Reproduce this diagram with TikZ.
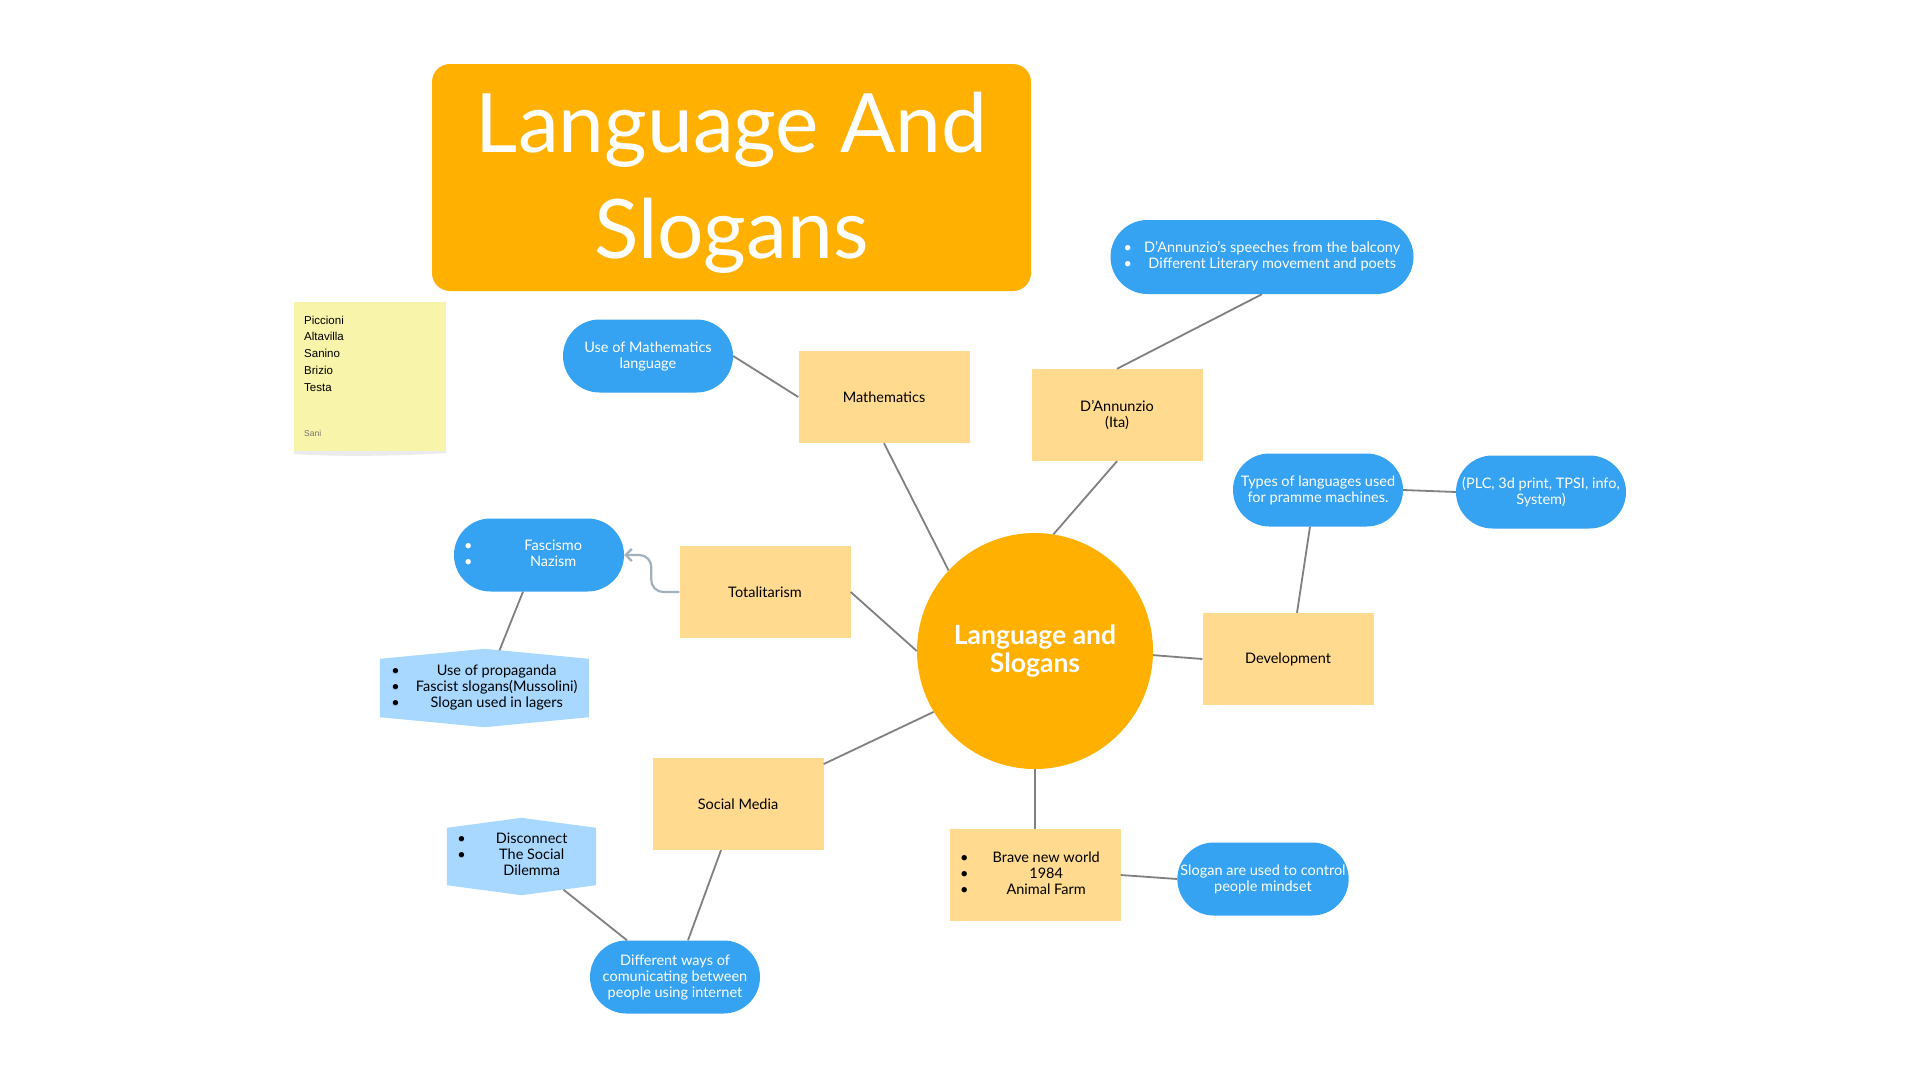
\documentclass[tikz,border=0pt]{standalone}
\usepackage{fontspec}
\setmainfont{Lato}
\newfontfamily\notefont{Liberation Sans}
\usetikzlibrary{arrows.meta,calc,positioning,shapes.misc,backgrounds}

\definecolor{titleorange}{HTML}{FFB000}
\definecolor{topicyellow}{HTML}{FFDA8F}
\definecolor{pillblue}{HTML}{36A2F2}
\definecolor{hexblue}{HTML}{A8D8FF}
\definecolor{noteyellow}{HTML}{F8F4AA}
\definecolor{linkgray}{HTML}{808080}
\definecolor{arrowgray}{HTML}{A3B1BC}

% bullet column, gap, text column, right padding
\newcommand{\dotlist}[3]{\begin{tabular}{@{}c@{\hspace{#1}}c@{\hspace{#2}}}#3\end{tabular}}

\tikzset{
  topic/.style={fill=topicyellow,minimum width=171pt,minimum height=92pt,inner sep=0pt,align=center,font=\fontsize{14.5}{16}\selectfont},
  pill/.style={rounded rectangle,fill=pillblue,text=white,minimum width=170pt,minimum height=73pt,inner sep=0pt,align=center,font=\fontsize{14.5}{16}\selectfont},
  hexbox/.style={inner sep=0pt,align=center,font=\fontsize{14.5}{16}\selectfont},
  link/.style={draw=linkgray,line width=1.8pt},
}

\begin{document}
\begin{tikzpicture}[x=1pt,y=-1pt]
\useasboundingbox (0,0) rectangle (1920,1080);

% title
\node[fill=titleorange,rounded corners=18pt,minimum width=599pt,minimum height=227pt] (title) at (731.5,177.5) {};
\node[text=white,align=center,font=\fontsize{82}{106}\selectfont] (titletext) at (731.5,182.5) {Language And\\Slogans};

% sticky note
\fill[black!8] (294,448) -- (446,448) -- (446,453) .. controls (400,456) and (340,457) .. (294,454) -- cycle;
\fill[noteyellow] (294,302) rectangle (446,451);
\node[anchor=north west,inner sep=0pt,align=left,font=\notefont\fontsize{11.5}{16.8}\selectfont] (names) at (304,315.5) {Piccioni\\Altavilla\\Sanino\\Brizio\\Testa};
\node[anchor=west,inner sep=0pt,text=black!55,font=\notefont\fontsize{8.5}{10}\selectfont] (sign) at (304,433) {Sani};

% hub
\node[circle,fill=titleorange,minimum size=236pt,inner sep=0pt,text=white,align=center,font=\bfseries\fontsize{26.5}{28}\selectfont] (hub) at (1035,651) {Language and\\Slogans};

% topics
\node[topic] (math) at (884,397) {Mathematics};
\node[topic] (dann) at (1117,415) {D'Annunzio\\(Ita)};
\node[topic] (total) at (765,592) {Totalitarism};
\node[topic] (dev) at (1288,659) {Development};
\node[topic] (social) at (738,804) {Social Media};
\node[topic] (books) at (1035,875) {\dotlist{24pt}{10pt}{• & Brave new world\\ • & 1984\\ • & Animal Farm}};

% blue notes
\node[pill] (mathuse) at (648,356) {Use of Mathematics\\language};
\node[pill,minimum width=303pt,minimum height=74pt] (balcony) at (1262,257) {\dotlist{12pt}{0pt}{• & D'Annunzio's speeches from the balcony\\ • & Different Literary movement and poets}};
\node[pill] (types) at (1318,490) {Types of languages used\\for pramme machines.};
\node[pill] (plc) at (1541,492) {(PLC, 3d print, TPSI, info,\\System)};
\node[pill] (regimes) at (539,555) {\dotlist{52pt}{32pt}{• & Fascismo\\ • & Nazism}};
\node[pill] (control) at (1263,879) {Slogan are used to control\\people mindset};
\node[pill] (ways) at (675,977) {Different ways of\\comunicating between\\people using internet};

% light blue hexagons
\node[hexbox,minimum width=209pt,minimum height=58pt] (prop) at (484.5,688) {\dotlist{16pt}{0pt}{• & Use of propaganda\\ • & Fascist slogans(Mussolini)\\ • & Slogan used in lagers}};
\node[hexbox,minimum width=149pt,minimum height=57pt] (disc) at (521.5,856.5) {\dotlist{30pt}{18pt}{• & Disconnect\\ • & The Social\\ & Dilemma}};
\begin{scope}[on background layer]
\fill[white] (0,0) rectangle (1920,1080);
\foreach \h in {prop,disc}
  \fill[hexblue] (\h.north west) -- ($(\h.north)+(0,-10)$) -- (\h.north east) -- (\h.south east) -- ($(\h.south)+(0,10)$) -- (\h.south west) -- cycle;
\end{scope}

% connectors
\draw[link] (hub.137) -- (math.south);
\draw[link] (math.west) -- (mathuse.east);
\draw[link] (hub.81) -- (dann.south);
\draw[link] (dann.north) -- (balcony.south);
\draw[link] (total.east) -- (hub.west);
\draw[link] ($(regimes.south)+(-16,0)$) -- ($(prop.north)+(15,-8.5)$);
\draw[link] (hub.-2) -- (dev.west);
\draw[link] ($(dev.north)+(9,0)$) -- ($(types.south)+(-8,0)$);
\draw[link] (types.east) -- (plc.west);
\draw[link] (hub.south) -- (books.north);
\draw[link] (books.east) -- (control.west);
\draw[link] (hub.211) -- (social.25);
\draw[link] ($(social.south)+(-17,0)$) -- ($(ways.north)+(13,0)$);
\draw[link] ($(disc.south)+(42,4.5)$) -- ($(ways.north)+(-48,0)$);
\draw[draw=arrowgray,line width=2.2pt,rounded corners=12pt,-{Straight Barb[length=6pt,width=12pt]}] (total.west) -- ++(-28,0) |- (regimes.east);
\end{tikzpicture}
\end{document}
